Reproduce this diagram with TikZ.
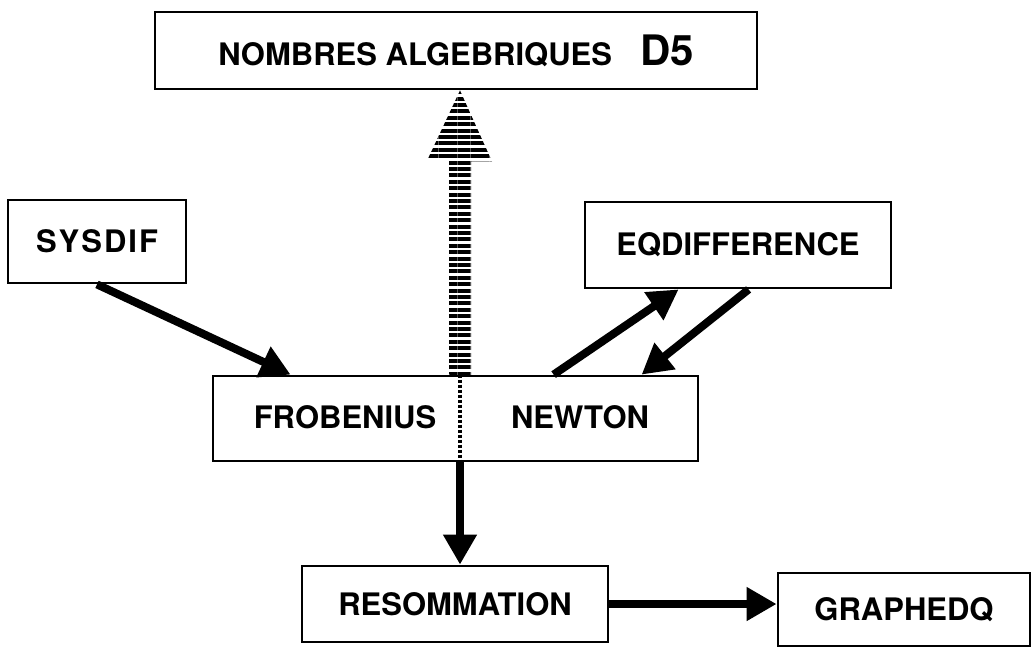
\documentclass[tikz,border=0pt]{standalone}
\usepackage{fontspec}
\setmainfont{TeX Gyre Heros}
\usetikzlibrary{arrows.meta,patterns.meta}

\begin{document}
\begin{tikzpicture}[
          x=0.5pt, y=-0.5pt,
          box/.style={draw=black, line width=1.4pt, inner sep=0pt, font=\bfseries\fontsize{15.5}{18}\selectfont},
          label/.style={inner sep=0pt, font=\bfseries\fontsize{15.5}{18}\selectfont},
          arr/.style={line width=4pt, -{Triangle[length=15pt,width=16pt]}},
          hatch/.style={pattern={Lines[angle=0,distance=3.2pt,line width=2pt]}},
          divider/.style={line width=1.8pt, dash pattern=on 1.5pt off 1pt}
        ]
          \useasboundingbox (0,0) rectangle (1036,649);

          \node (nb) at (456, 50.5)  [box, minimum width=301pt, minimum height=38.5pt] {%
            NOMBRES ALGEBRIQUES\hspace{14pt}{\fontsize{21}{24}\selectfont D5}};
          \node (sd) at (97, 241.5)  [box, minimum width=89pt, minimum height=41.5pt] {S\kern1pt Y\kern1pt S\kern1pt D\kern1pt I\kern1pt F};
          \node (eq) at (738, 245)   [box, minimum width=153pt, minimum height=43pt] {EQDIFFERENCE};

          \node (fn) at (455.5, 418.5) [box, minimum width=242.5pt, minimum height=42.5pt] {};
          \node (frob) at (345, 417) [label] {FROBENIUS};
          \node (newt) at (580, 417) [label] {NEWTON};
          \coordinate (split) at (460, 0);

          \node (rs) at (455, 604)   [box, minimum width=153pt, minimum height=38pt] {RESOMMATION};
          \node (gq) at (904, 609.5) [box, minimum width=126pt, minimum height=36.5pt] {GRAPHEDQ};

          \path [hatch] (fn.north -| split) ++(-11,0) -- ++(0,-216) -- ++(-21,0)
            -- (nb.south -| split) -- ++(32,71) -- ++(-21,0) -- ++(0,216) -- cycle;
          \draw [divider] (fn.north -| split) -- (fn.south -| split);

          \draw [arr] (sd.south) -- ([xshift=39.5pt]fn.north west);
          \draw [arr] ([xshift=171pt]fn.north west) -- ([xshift=47.5pt]eq.south west);
          \draw [arr] ([xshift=82.5pt]eq.south west) -- ([xshift=215pt]fn.north west);
          \draw [arr] (fn.south -| split) -- (rs.north -| split);
          \draw [arr] (rs.east) -- (gq.west |- rs.east);
        \end{tikzpicture}
\end{document}
